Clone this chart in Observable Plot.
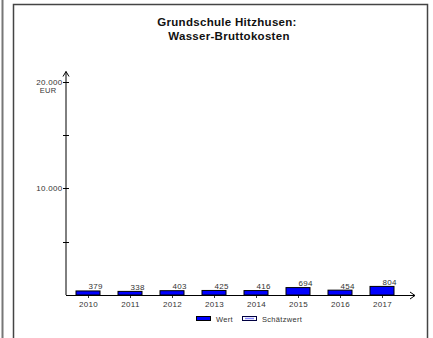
<!DOCTYPE html>
<html><head><meta charset="utf-8">
<script src="https://cdn.jsdelivr.net/npm/d3@7"></script>
<script src="https://cdn.jsdelivr.net/npm/@observablehq/plot@0.6"></script>
<style>
body{margin:0;background:#fff;}
#wrap{position:relative;width:433px;height:338px;overflow:hidden;font-family:"Liberation Sans",Arial,sans-serif;}
#wrap svg{position:absolute;left:0;top:0;letter-spacing:0.3px;}
</style></head><body><div id="wrap"></div>
<script>
const years = ["2010","2011","2012","2013","2014","2015","2016","2017"];
const values = [379, 338, 403, 425, 416, 694, 454, 804];
const yTicks = [5000, 10000, 15000, 20000];
const yLabelTicks = [10000, 20000];
const titleLines = ["Grundschule Hitzhusen:", "Wasser-Bruttokosten"];
const unitLabel = "EUR";
const legendLabels = ["Wert", "Schätzwert"];

const data = years.map((y, i) => ({year: y, value: values[i]}));
const de = d3.formatLocale({decimal: ",", thousands: ".", grouping: [3], currency: ["", " €"]});
const fmt = de.format(",");
const font = "'Liberation Sans', Arial, sans-serif";

const plot = Plot.plot({
  width: 433, height: 338,
  marginLeft: 66, marginRight: 18, marginTop: 81, marginBottom: 43,
  x: {domain: years, range: [66.5, 402.5], paddingInner: 0.44, paddingOuter: 0.22, axis: null, label: null},
  y: {domain: [0, 20000], range: [295, 81.5], axis: null, label: null},
  style: {fontFamily: font, fontSize: "8px", color: "#333", background: "transparent", overflow: "visible"},
  marks: [
    Plot.barY(data, {x: "year", y: "value", fill: "#0000ff", stroke: "#000", strokeWidth: 1}),
    Plot.text(data, {x: "year", y: "value", text: d => fmt(d.value), textAnchor: "start", lineAnchor: "bottom", dy: -2, dx: 0, fill: "#333", fontSize: 8}),
    Plot.axisX({tickSize: 3, tickPadding: 3, stroke: "#333", fill: "#333", fontSize: 8, label: null}),
    Plot.axisY(yLabelTicks, {tickSize: 0, tickPadding: 4, tickFormat: fmt, fill: "#333", fontSize: 8, label: null})
  ]
});

const wrap = d3.select("#wrap");
wrap.node().appendChild(plot);
const svg = d3.select(plot);
const ys = plot.scale("y");
const y0 = ys.apply(0);
const yTop = ys.apply(20000);
const axX = 66;
const g = svg.append("g").attr("fill", "none");

// outer border lines
g.append("line").attr("x1", 2.5).attr("x2", 2.5).attr("y1", 0).attr("y2", 338).attr("stroke", "#777").attr("stroke-width", 2);
g.append("rect").attr("x", 13.5).attr("y", 4.5).attr("width", 414).attr("height", 400).attr("stroke", "#444").attr("stroke-width", 1.5);

// y axis line + arrow
g.append("line").attr("x1", axX).attr("x2", axX).attr("y1", y0).attr("y2", yTop - 10).attr("stroke", "#000");
g.append("path").attr("d", `M${axX-3},${yTop-5}L${axX},${yTop-10}L${axX+3},${yTop-5}`).attr("stroke", "#000");
// y ticks crossing
for (const t of yTicks) {
  const yy = Math.round(ys.apply(t)) + 0.5;
  g.append("line").attr("x1", axX - 3).attr("x2", axX + 3).attr("y1", yy).attr("y2", yy).attr("stroke", "#000");
}
// x axis line + arrow
g.append("line").attr("x1", axX).attr("x2", 415).attr("y1", y0 + 0.5).attr("y2", y0 + 0.5).attr("stroke", "#000");
g.append("path").attr("d", `M410,${y0-3}L415,${y0+0.5}L410,${y0+4}`).attr("stroke", "#000");

// unit label
svg.append("text").attr("x", 48).attr("y", yTop + 11).attr("text-anchor", "middle")
  .attr("font-family", font).attr("font-size", 7.5).attr("fill", "#333").text(unitLabel);

// title
const tg = svg.append("g").attr("font-family", font).attr("font-weight", "bold").attr("font-size", 11.5)
  .attr("text-anchor", "middle").attr("fill", "#111").attr("letter-spacing", 0.3);
tg.append("text").attr("x", 227).attr("y", 26).text(titleLines[0]);
tg.append("text").attr("x", 229).attr("y", 40).text(titleLines[1]);

// legend
const lg = svg.append("g").attr("font-family", font).attr("font-size", 7.5).attr("fill", "#333").attr("text-anchor", "start");
lg.append("rect").attr("x", 196.5).attr("y", 316.5).attr("width", 14).attr("height", 4).attr("fill", "#0000ff").attr("stroke", "#000");
lg.append("text").attr("x", 216).attr("y", 322).text(legendLabels[0]);
lg.append("rect").attr("x", 242.5).attr("y", 316.5).attr("width", 14).attr("height", 4).attr("fill", "#fff").attr("stroke", "#000040");
lg.append("line").attr("x1", 245).attr("x2", 254).attr("y1", 318.5).attr("y2", 318.5).attr("stroke", "#8888ff").attr("stroke-width", 1.5);
lg.append("text").attr("x", 262).attr("y", 322).text(legendLabels[1]);
</script></body></html>
